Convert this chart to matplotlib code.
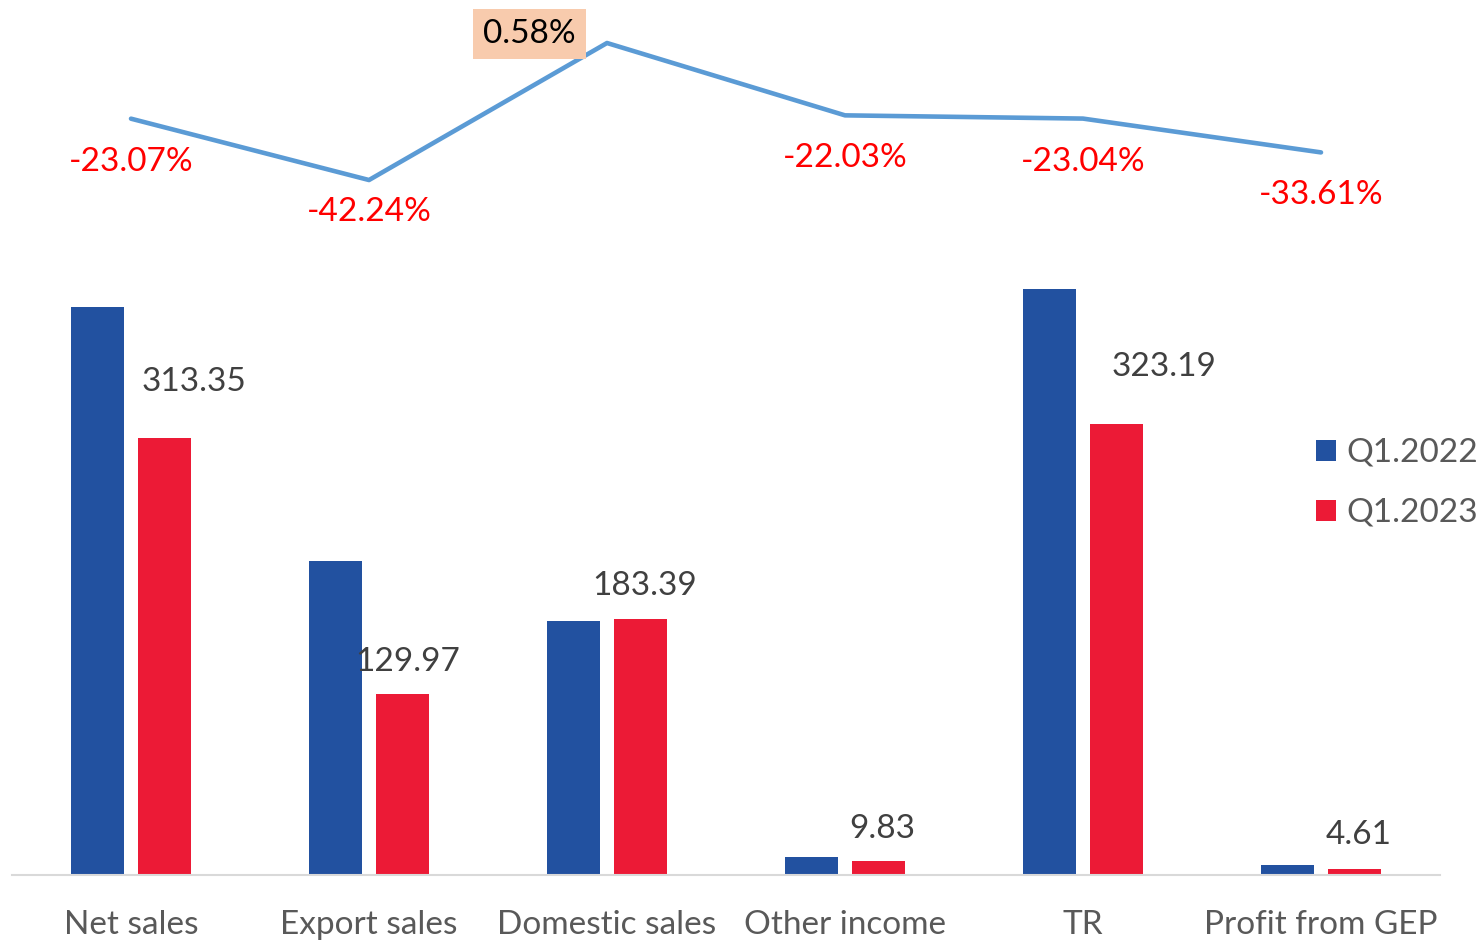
import matplotlib
matplotlib.use("Agg")
import matplotlib.pyplot as plt
import numpy as np

categories = ["Net sales", "Export sales", "Domestic sales", "Other income", "TR", "Profit from GEP"]
q1_2022 = [407.3, 225.0, 182.3, 12.6, 419.9, 6.9]
q1_2023 = [313.35, 129.97, 183.39, 9.83, 323.19, 4.61]
change_pct = [-23.07, -42.24, 0.58, -22.03, -23.04, -33.61]
series_names = ["Q1.2022", "Q1.2023"]

# label offsets (points) for the Q1.2023 value labels and percent labels
bar_label_offsets = [(21, 40), (4, 23), (3, 24), (3, 23), (34, 41), (3, 24)]
pct_label_offsets = [(0, -31), (0, -23), (-56, 6.5), (0, -31), (0, -31), (0, -31)]

FONT = "Lato"
plt.rcParams["font.family"] = [FONT, "DejaVu Sans"]
FS = 24

fig = plt.figure(figsize=(14.78, 9.42), dpi=100)
W, H = 1478, 942
ax = fig.add_axes([12 / W, (H - 875) / H, 1428 / W, 855 / H])

x = np.arange(len(categories))
bw = 0.223
off = 0.141
blue = "#2251a0"
red = "#ec1a36"
ax.bar(x - off, q1_2022, bw, color=blue, label=series_names[0], zorder=2)
ax.bar(x + off, q1_2023, bw, color=red, label=series_names[1], zorder=2)
ax.set_xlim(-0.5, len(categories) - 0.5)
ax.set_ylim(0, 855 / 1.3946)

for xi, v, (dx, dy) in zip(x, q1_2023, bar_label_offsets):
    ax.annotate(f"{v:.2f}", (xi + off, v), xytext=(dx, dy), textcoords="offset points",
                ha="center", va="center", fontsize=FS, color="#404040")

for s in ["top", "right", "left"]:
    ax.spines[s].set_visible(False)
ax.spines["bottom"].set_color("#d9d9d9")
ax.spines["bottom"].set_linewidth(1.5)
ax.set_yticks([])
ax.set_xticks(x)
ax.set_xticklabels(categories, fontsize=FS, color="#595959")
ax.tick_params(axis="x", length=0, pad=25)

ax2 = ax.twinx()
ax2.set_ylim(0.58 - 832 / 3.2, 0.58 + 23 / 3.2)
ax2.plot(x, change_pct, color="#5b9bd5", lw=3.3, solid_capstyle="round", zorder=3)
ax2.axis("off")
for xi, v, (dx, dy) in zip(x, change_pct, pct_label_offsets):
    if v > 0:
        ax2.annotate(f"{v:.2f}%", (xi, v), xytext=(dx, dy), textcoords="offset points",
                     ha="center", va="center", fontsize=FS, color="black",
                     bbox=dict(boxstyle="square,pad=0.3", fc="#f8cbad", ec="none"))
    else:
        ax2.annotate(f"{v:.2f}%", (xi, v), xytext=(dx, dy), textcoords="offset points",
                     ha="center", va="center", fontsize=FS, color="#ff0000")

leg = fig.legend(loc="upper left", bbox_to_anchor=(1316 / W, 1 - 438 / H), frameon=False,
                 fontsize=FS, handlelength=0.6, handleheight=0.6, handletextpad=0.3,
                 labelspacing=0.9, borderpad=0, borderaxespad=0, labelcolor="#595959")

fig.savefig("out.png", dpi=100)
